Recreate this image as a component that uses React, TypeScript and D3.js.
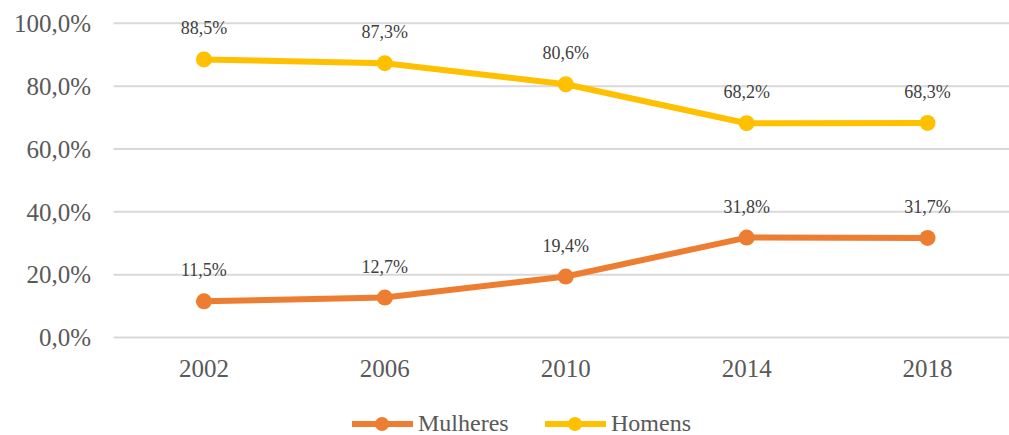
import React from 'react';
import * as d3 from 'd3';

const years = ['2002', '2006', '2010', '2014', '2018'];
const mulheres = [11.5, 12.7, 19.4, 31.8, 31.7];
const homens = [88.5, 87.3, 80.6, 68.2, 68.3];
const yTicks = [0, 20, 40, 60, 80, 100];

const W = 1009;
const H = 435;
const ORANGE = '#ED7D31';
const YELLOW = '#FFC000';
const TEXT = '#595959';
const FONT = "'Liberation Serif', 'DejaVu Serif', serif";

const fmt = (v: number) => v.toFixed(1).replace('.', ',') + '%';

export default function App() {
  const x = d3.scaleBand().domain(years).range([113.5, 1018]);
  const y = d3.scaleLinear().domain([0, 100]).range([337.5, 23.3]);
  const cx = (d: string) => (x(d) as number) + x.bandwidth() / 2;
  const line = d3.line<number>().x((_, i) => cx(years[i])).y(v => y(v));

  const series = [
    { name: 'Mulheres', values: mulheres, color: ORANGE },
    { name: 'Homens', values: homens, color: YELLOW },
  ];

  return (
    <svg width={W} height={H} style={{ position: 'absolute', left: 0, top: 0, background: '#fff' }} fontFamily={FONT}>
      <rect width={W} height={H} fill="#fff" />
      {yTicks.map(t => (
        <g key={t}>
          <line x1={113.5} x2={1018} y1={y(t)} y2={y(t)} stroke="#d9d9d9" strokeWidth={2} />
          <text x={91} y={y(t)} dy="0.35em" textAnchor="end" fontSize={25} fill={TEXT}>
            {fmt(t)}
          </text>
        </g>
      ))}
      {years.map(yr => (
        <text key={yr} x={cx(yr)} y={377} textAnchor="middle" fontSize={25} fill={TEXT}>
          {yr}
        </text>
      ))}
      {series.map(s => (
        <g key={s.name}>
          <path d={line(s.values) || ''} fill="none" stroke={s.color} strokeWidth={6} strokeLinejoin="round" />
          {s.values.map((v, i) => (
            <circle key={i} cx={cx(years[i])} cy={y(v)} r={8} fill={s.color} />
          ))}
          {s.values.map((v, i) => (
            <text key={'l' + i} x={cx(years[i])} y={y(v) - 25} textAnchor="middle" fontSize={18} fill="#404040">
              {fmt(v)}
            </text>
          ))}
        </g>
      ))}
      {series.map((s, i) => {
        const lx = 352 + i * 193;
        return (
          <g key={'lg' + s.name}>
            <line x1={lx} x2={lx + 61} y1={424} y2={424} stroke={s.color} strokeWidth={6} />
            <circle cx={lx + 30} cy={424} r={7} fill={s.color} />
            <text x={lx + 66} y={431} fontSize={24} fill={TEXT}>
              {s.name}
            </text>
          </g>
        );
      })}
    </svg>
  );
}
